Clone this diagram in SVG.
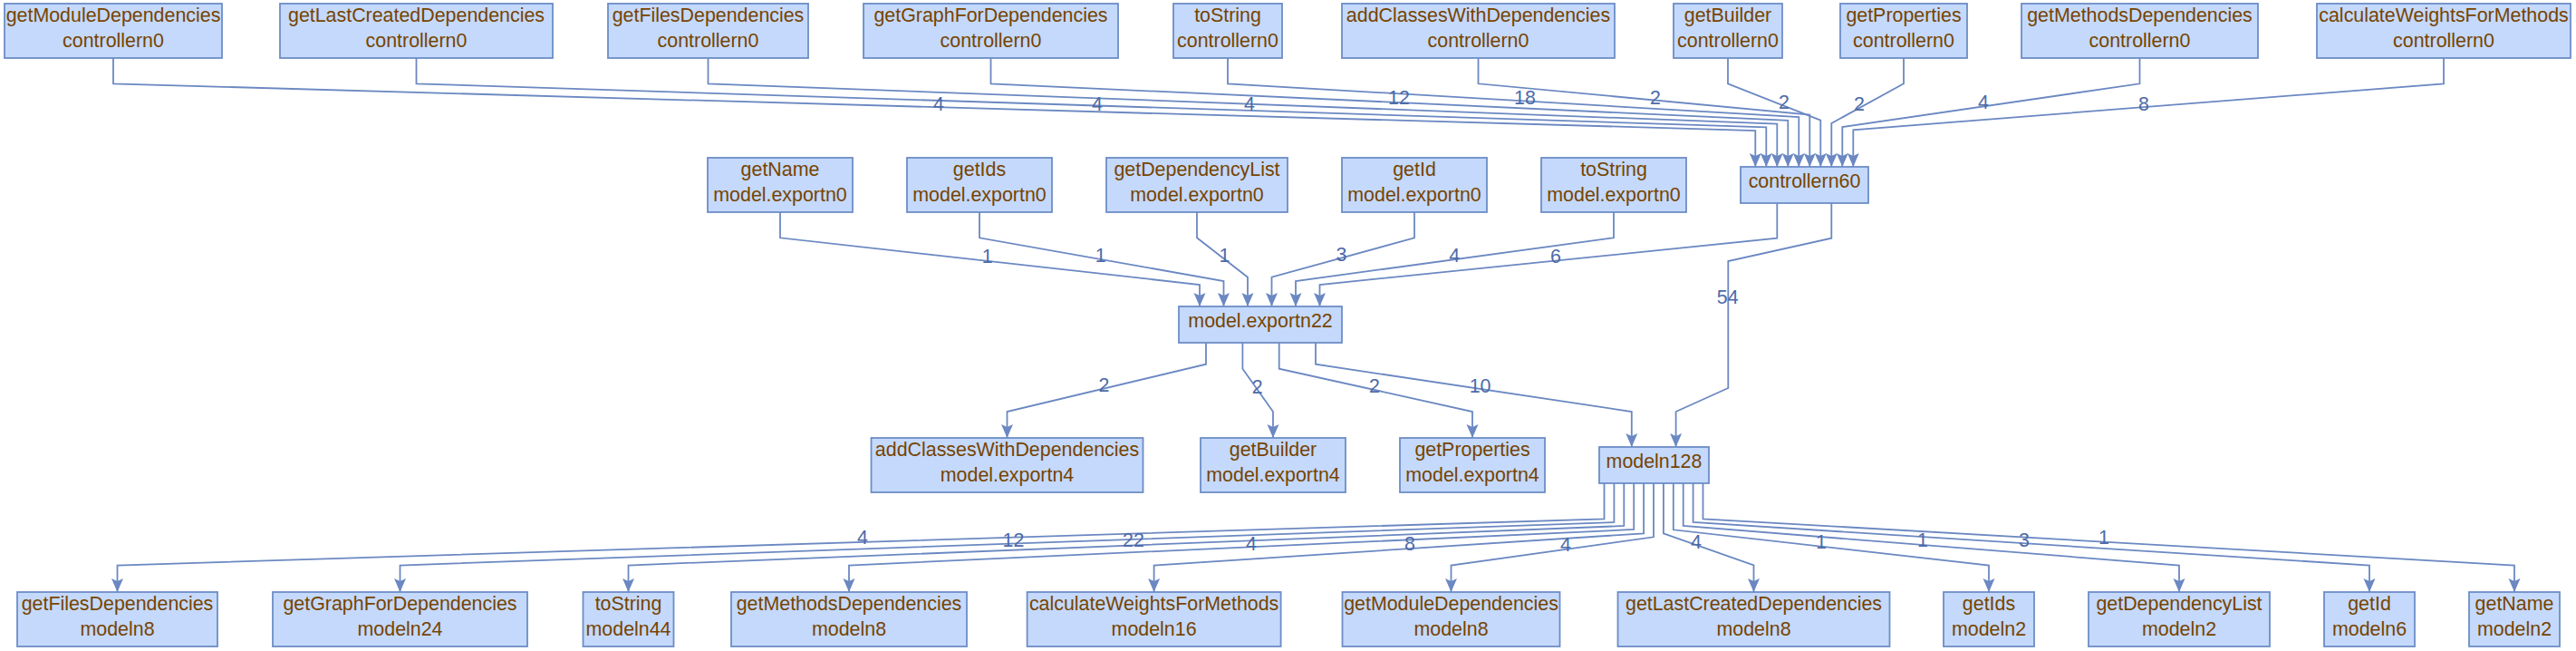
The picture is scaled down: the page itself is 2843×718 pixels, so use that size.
<svg xmlns="http://www.w3.org/2000/svg" width="2843" height="718" viewBox="0 0 2843 718">
<style>
.node rect{fill:#c4d9fc;stroke:#6d8dc6;stroke-width:1.8}
.node text{font-family:"Liberation Sans",Arial,sans-serif;font-size:21.4px;fill:#774400;text-anchor:middle}
.edge{fill:none;stroke:#6b88c2;stroke-width:1.8;marker-end:url(#arrow)}
.lbl{font-family:"Liberation Sans",Arial,sans-serif;font-size:21.4px;fill:#4d6aa8;text-anchor:middle}
</style>
<defs>
<marker id="arrow" markerUnits="userSpaceOnUse" markerWidth="16" markerHeight="15" refX="15" refY="7" orient="auto" viewBox="0 0 16 15">
<path d="M0,0.5 L15,7 L0,13.5 L3,7 Z" fill="#6b88c2"/>
</marker>
</defs>
<rect width="2843" height="718" fill="#ffffff"/>

<g id="connectors">
<path class="edge" d="M125,64 L125,92.3 L1937.3,144 L1937.3,184"/>
<path class="edge" d="M459.5,64 L459.5,92.3 L1949.3,140.3 L1949.3,184"/>
<path class="edge" d="M781.5,64 L781.5,92.3 L1961.3,136.6 L1961.3,184"/>
<path class="edge" d="M1093.5,64 L1093.5,92.3 L1973.3,132.9 L1973.3,184"/>
<path class="edge" d="M1355,64 L1355,92.3 L1985.3,129.2 L1985.3,184"/>
<path class="edge" d="M1631.5,64 L1631.5,92.3 L1997.3,126.5 L1997.3,184"/>
<path class="edge" d="M1907,64 L1907,92.3 L2009.3,132.7 L2009.3,184"/>
<path class="edge" d="M2101,64 L2101,92.3 L2021.3,136 L2021.3,184"/>
<path class="edge" d="M2361.5,64 L2361.5,92.3 L2033.3,140 L2033.3,184"/>
<path class="edge" d="M2697,64 L2697,92.3 L2045.3,143.3 L2045.3,184"/>
<path class="edge" d="M861,234 L861,262.3 L1324,314 L1324,338"/>
<path class="edge" d="M1081,234 L1081,262.3 L1350.5,310 L1350.5,338"/>
<path class="edge" d="M1321,234 L1321,262.3 L1377,305.7 L1377,338"/>
<path class="edge" d="M1561,234 L1561,262.3 L1403.5,305.7 L1403.5,338"/>
<path class="edge" d="M1781,234 L1781,262.3 L1430,310 L1430,338"/>
<path class="edge" d="M1961.3,224 L1961.3,262.7 L1456.5,314 L1456.5,338"/>
<path class="edge" d="M2021.3,224 L2021.3,262.7 L1907.3,288 L1907.3,428 L1849.6,454 L1849.6,493"/>
<path class="edge" d="M1331,378 L1331,401.7 L1111.5,454 L1111.5,483"/>
<path class="edge" d="M1371.4,378 L1371.4,406.7 L1405,454 L1405,483"/>
<path class="edge" d="M1411.7,378 L1411.7,406.7 L1625,454 L1625,483"/>
<path class="edge" d="M1452,378 L1452,401.7 L1800.8,454 L1800.8,493"/>
<path class="edge" d="M1770.5,533 L1770.5,572.3 L129.5,623.5 L129.5,653"/>
<path class="edge" d="M1781.4,533 L1781.4,576 L441.5,623.5 L441.5,653"/>
<path class="edge" d="M1792.3,533 L1792.3,580 L693.5,623.5 L693.5,653"/>
<path class="edge" d="M1803.2,533 L1803.2,584 L937,623.5 L937,653"/>
<path class="edge" d="M1814.1,533 L1814.1,588.3 L1273.6,623.5 L1273.6,653"/>
<path class="edge" d="M1825,533 L1825,592.3 L1601.5,623.5 L1601.5,653"/>
<path class="edge" d="M1835.9,533 L1835.9,588.3 L1935.5,623.5 L1935.5,653"/>
<path class="edge" d="M1846.8,533 L1846.8,584.3 L2195,623.5 L2195,653"/>
<path class="edge" d="M1857.7,533 L1857.7,580 L2405,623.5 L2405,653"/>
<path class="edge" d="M1868.6,533 L1868.6,576 L2615,623.5 L2615,653"/>
<path class="edge" d="M1879.5,533 L1879.5,572.3 L2775,623.5 L2775,653"/>
<text class="lbl" x="1036" y="121.7">4</text>
<text class="lbl" x="1211" y="121.7">4</text>
<text class="lbl" x="1379" y="121.7">4</text>
<text class="lbl" x="1544" y="115">12</text>
<text class="lbl" x="1683" y="115">18</text>
<text class="lbl" x="1827" y="115">2</text>
<text class="lbl" x="1969" y="120">2</text>
<text class="lbl" x="2052" y="121.7">2</text>
<text class="lbl" x="2189" y="120">4</text>
<text class="lbl" x="2366" y="121.7">8</text>
<text class="lbl" x="1089.7" y="290">1</text>
<text class="lbl" x="1214.6" y="289">1</text>
<text class="lbl" x="1351.4" y="289">1</text>
<text class="lbl" x="1480.4" y="288">3</text>
<text class="lbl" x="1605.3" y="289">4</text>
<text class="lbl" x="1716.9" y="290">6</text>
<text class="lbl" x="1906.7" y="335">54</text>
<text class="lbl" x="1218.5" y="432">2</text>
<text class="lbl" x="1387.6" y="434">2</text>
<text class="lbl" x="1517" y="433">2</text>
<text class="lbl" x="1633.6" y="433">10</text>
<text class="lbl" x="952" y="600">4</text>
<text class="lbl" x="1118.5" y="603">12</text>
<text class="lbl" x="1251" y="603">22</text>
<text class="lbl" x="1381" y="606.7">4</text>
<text class="lbl" x="1556" y="606.7">8</text>
<text class="lbl" x="1728" y="608">4</text>
<text class="lbl" x="1872" y="605">4</text>
<text class="lbl" x="2010" y="605">1</text>
<text class="lbl" x="2122" y="603">1</text>
<text class="lbl" x="2234" y="602.7">3</text>
<text class="lbl" x="2322" y="600">1</text>
</g>

<g id="c_getModuleDependencies" class="node"><rect x="5" y="4" width="240" height="60"/><text x="125" y="23.5">getModuleDependencies</text><text x="125" y="52">controllern0</text></g>
<g id="c_getLastCreatedDependencies" class="node"><rect x="309" y="4" width="301" height="60"/><text x="459.5" y="23.5">getLastCreatedDependencies</text><text x="459.5" y="52">controllern0</text></g>
<g id="c_getFilesDependencies" class="node"><rect x="671" y="4" width="221" height="60"/><text x="781.5" y="23.5">getFilesDependencies</text><text x="781.5" y="52">controllern0</text></g>
<g id="c_getGraphForDependencies" class="node"><rect x="953" y="4" width="281" height="60"/><text x="1093.5" y="23.5">getGraphForDependencies</text><text x="1093.5" y="52">controllern0</text></g>
<g id="c_toString" class="node"><rect x="1295" y="4" width="120" height="60"/><text x="1355" y="23.5">toString</text><text x="1355" y="52">controllern0</text></g>
<g id="c_addClassesWithDependencies" class="node"><rect x="1481" y="4" width="301" height="60"/><text x="1631.5" y="23.5">addClassesWithDependencies</text><text x="1631.5" y="52">controllern0</text></g>
<g id="c_getBuilder" class="node"><rect x="1847" y="4" width="120" height="60"/><text x="1907" y="23.5">getBuilder</text><text x="1907" y="52">controllern0</text></g>
<g id="c_getProperties" class="node"><rect x="2031" y="4" width="140" height="60"/><text x="2101" y="23.5">getProperties</text><text x="2101" y="52">controllern0</text></g>
<g id="c_getMethodsDependencies" class="node"><rect x="2231" y="4" width="261" height="60"/><text x="2361.5" y="23.5">getMethodsDependencies</text><text x="2361.5" y="52">controllern0</text></g>
<g id="c_calculateWeightsForMethods" class="node"><rect x="2557" y="4" width="280" height="60"/><text x="2697" y="23.5">calculateWeightsForMethods</text><text x="2697" y="52">controllern0</text></g>

<g id="e_getName" class="node"><rect x="781" y="174" width="160" height="60"/><text x="861" y="193.5">getName</text><text x="861" y="222">model.exportn0</text></g>
<g id="e_getIds" class="node"><rect x="1001" y="174" width="160" height="60"/><text x="1081" y="193.5">getIds</text><text x="1081" y="222">model.exportn0</text></g>
<g id="e_getDependencyList" class="node"><rect x="1221" y="174" width="200" height="60"/><text x="1321" y="193.5">getDependencyList</text><text x="1321" y="222">model.exportn0</text></g>
<g id="e_getId" class="node"><rect x="1481" y="174" width="160" height="60"/><text x="1561" y="193.5">getId</text><text x="1561" y="222">model.exportn0</text></g>
<g id="e_toString" class="node"><rect x="1701" y="174" width="160" height="60"/><text x="1781" y="193.5">toString</text><text x="1781" y="222">model.exportn0</text></g>
<g id="controllern60" class="node"><rect x="1921" y="184" width="141" height="40"/><text x="1991.5" y="206.7">controllern60</text></g>

<g id="model_exportn22" class="node"><rect x="1301" y="338" width="180" height="40"/><text x="1391" y="361">model.exportn22</text></g>

<g id="x_addClassesWithDependencies" class="node"><rect x="961.5" y="483" width="300" height="60"/><text x="1111.5" y="502.5">addClassesWithDependencies</text><text x="1111.5" y="531">model.exportn4</text></g>
<g id="x_getBuilder" class="node"><rect x="1325" y="483" width="160" height="60"/><text x="1405" y="502.5">getBuilder</text><text x="1405" y="531">model.exportn4</text></g>
<g id="x_getProperties" class="node"><rect x="1545" y="483" width="160" height="60"/><text x="1625" y="502.5">getProperties</text><text x="1625" y="531">model.exportn4</text></g>
<g id="modeln128" class="node"><rect x="1765" y="493" width="121" height="40"/><text x="1825.5" y="515.7">modeln128</text></g>

<g id="m_getFilesDependencies" class="node"><rect x="19" y="653" width="221" height="60"/><text x="129.5" y="672.5">getFilesDependencies</text><text x="129.5" y="701">modeln8</text></g>
<g id="m_getGraphForDependencies" class="node"><rect x="301" y="653" width="281" height="60"/><text x="441.5" y="672.5">getGraphForDependencies</text><text x="441.5" y="701">modeln24</text></g>
<g id="m_toString" class="node"><rect x="643.5" y="653" width="100" height="60"/><text x="693.5" y="672.5">toString</text><text x="693.5" y="701">modeln44</text></g>
<g id="m_getMethodsDependencies" class="node"><rect x="807" y="653" width="260" height="60"/><text x="937" y="672.5">getMethodsDependencies</text><text x="937" y="701">modeln8</text></g>
<g id="m_calculateWeightsForMethods" class="node"><rect x="1133.6" y="653" width="280" height="60"/><text x="1273.6" y="672.5">calculateWeightsForMethods</text><text x="1273.6" y="701">modeln16</text></g>
<g id="m_getModuleDependencies" class="node"><rect x="1481.5" y="653" width="240" height="60"/><text x="1601.5" y="672.5">getModuleDependencies</text><text x="1601.5" y="701">modeln8</text></g>
<g id="m_getLastCreatedDependencies" class="node"><rect x="1785.5" y="653" width="300" height="60"/><text x="1935.5" y="672.5">getLastCreatedDependencies</text><text x="1935.5" y="701">modeln8</text></g>
<g id="m_getIds" class="node"><rect x="2145" y="653" width="100" height="60"/><text x="2195" y="672.5">getIds</text><text x="2195" y="701">modeln2</text></g>
<g id="m_getDependencyList" class="node"><rect x="2305" y="653" width="200" height="60"/><text x="2405" y="672.5">getDependencyList</text><text x="2405" y="701">modeln2</text></g>
<g id="m_getId" class="node"><rect x="2565" y="653" width="100" height="60"/><text x="2615" y="672.5">getId</text><text x="2615" y="701">modeln6</text></g>
<g id="m_getName" class="node"><rect x="2725" y="653" width="100" height="60"/><text x="2775" y="672.5">getName</text><text x="2775" y="701">modeln2</text></g>
</svg>
